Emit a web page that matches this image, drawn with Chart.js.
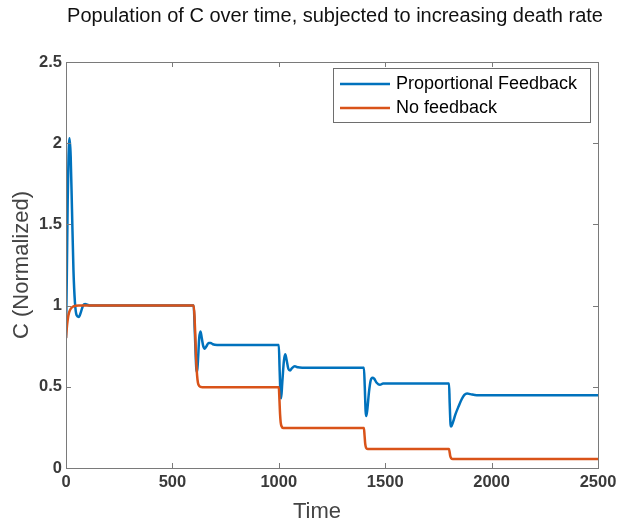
<!DOCTYPE html>
<html>
<head>
<meta charset="utf-8">
<script src="https://cdn.jsdelivr.net/npm/chart.js@4.4.1/dist/chart.umd.min.js"></script>
<style>
  body { margin: 0; background: #fff; }
  canvas { display: block; }
</style>
</head>
<body>
<canvas id="popChart" width="617" height="529"></canvas>
<script>
// data
const feedbackTime = [0, 4, 8, 12, 17, 22, 28, 35, 42, 50, 60, 70, 80, 90, 100, 115,
    600, 605, 612, 616, 620, 626, 632, 638, 645, 652, 660, 670, 680, 690, 710,
    1000, 1004, 1008, 1011, 1016, 1024, 1030, 1036, 1045, 1053, 1062, 1075, 1090, 1110,
    1400, 1404, 1408, 1411, 1416, 1424, 1432, 1440, 1448, 1460, 1475, 1490, 1510,
    1800, 1803, 1807, 1810, 1818, 1830, 1845, 1860, 1872, 1885, 1900, 1930, 2500];
const feedbackC = [0.80, 1.20, 1.65, 1.92, 2.03, 1.92, 1.60, 1.22, 1.02, 0.94, 0.93, 0.96, 1.00, 1.01, 1.005, 1.0,
    1.0, 0.85, 0.62, 0.59, 0.66, 0.80, 0.84, 0.80, 0.75, 0.735, 0.75, 0.77, 0.77, 0.762, 0.758,
    0.758, 0.60, 0.45, 0.43, 0.52, 0.66, 0.70, 0.67, 0.61, 0.60, 0.615, 0.627, 0.62, 0.618,
    0.618, 0.50, 0.35, 0.32, 0.36, 0.47, 0.54, 0.556, 0.55, 0.525, 0.512, 0.52, 0.52,
    0.52, 0.40, 0.27, 0.255, 0.28, 0.33, 0.38, 0.425, 0.45, 0.459, 0.455, 0.448, 0.448];

const noFbTime = [0, 5, 10, 15, 22, 35, 60,
    600, 604, 608, 612, 616, 620, 626, 640,
    1000, 1003, 1006, 1009, 1013, 1020,
    1400, 1403, 1406, 1410, 1418,
    1800, 1803, 1806, 1810, 1818, 2500];
const noFbC = [0.80, 0.88, 0.93, 0.96, 0.98, 0.995, 1.0,
    1.0, 0.93, 0.80, 0.66, 0.57, 0.525, 0.505, 0.497,
    0.497, 0.42, 0.33, 0.28, 0.257, 0.246,
    0.246, 0.20, 0.15, 0.125, 0.117,
    0.117, 0.095, 0.072, 0.06, 0.055, 0.055];

const xTicks = [0, 500, 1000, 1500, 2000, 2500];
const yTicks = [0, 0.5, 1, 1.5, 2, 2.5];

const seriesNames = ["Proportional Feedback", "No feedback"];
const seriesColors = ["#0072BD", "#D95319"];

const toPoints = (xs, ys) => xs.map((x, i) => ({ x: x, y: ys[i] }));

// matlab style box, inward ticks, titles and legend
const matlabFrame = {
    id: "matlabFrame",
    afterDatasetsDraw(chart) {
        const c = chart.ctx;
        const a = chart.chartArea;
        const xs = chart.scales.x;
        const ys = chart.scales.y;
        const tl = 5;

        c.save();
        c.strokeStyle = "#7a7a7a";
        c.lineWidth = 1;
        c.strokeRect(a.left + 0.5, a.top + 0.5, a.right - a.left, a.bottom - a.top);

        c.beginPath();
        xTicks.forEach(v => {
            const px = Math.round(xs.getPixelForValue(v)) + 0.5;
            c.moveTo(px, a.bottom);
            c.lineTo(px, a.bottom - tl);
            c.moveTo(px, a.top);
            c.lineTo(px, a.top + tl);
        });
        yTicks.forEach(v => {
            const py = Math.round(ys.getPixelForValue(v)) + 0.5;
            c.moveTo(a.left, py);
            c.lineTo(a.left + tl, py);
            c.moveTo(a.right, py);
            c.lineTo(a.right - tl, py);
        });
        c.stroke();

        // legend box
        const lx = 333, ly = 68, lw = 257, lh = 54;
        c.fillStyle = "#fff";
        c.fillRect(lx, ly, lw, lh);
        c.strokeStyle = "#6e6e6e";
        c.strokeRect(lx + 0.5, ly + 0.5, lw, lh);
        c.font = "18px 'Liberation Sans', Arial, sans-serif";
        c.textBaseline = "middle";
        c.textAlign = "left";
        seriesNames.forEach((name, i) => {
            const ry = 84 + i * 24;
            c.strokeStyle = seriesColors[i];
            c.lineWidth = 2.5;
            c.beginPath();
            c.moveTo(340, ry);
            c.lineTo(390, ry);
            c.stroke();
            c.fillStyle = "#000";
            c.fillText(name, 396, ry);
        });

        // title and axis titles
        c.fillStyle = "#111";
        c.textAlign = "center";
        c.font = "20px 'Liberation Sans', Arial, sans-serif";
        c.fillText("Population of C over time, subjected to increasing death rate", 335, 16);

        c.fillStyle = "#444";
        c.font = "22px 'Liberation Sans', Arial, sans-serif";
        c.fillText("Time", 317, 512);
        c.translate(22, 265);
        c.rotate(-Math.PI / 2);
        c.fillText("C (Normalized)", 0, 0);
        c.restore();
    }
};

const tickFont = { family: "'Liberation Sans', Arial, sans-serif", size: 16.5, weight: "bold" };

new Chart(document.getElementById("popChart"), {
    type: "line",
    data: {
        datasets: [
            {
                label: seriesNames[0],
                data: toPoints(feedbackTime, feedbackC),
                borderColor: seriesColors[0],
                borderWidth: 2.5,
                pointRadius: 0,
                cubicInterpolationMode: "monotone",
                order: 2
            },
            {
                label: seriesNames[1],
                data: toPoints(noFbTime, noFbC),
                borderColor: seriesColors[1],
                borderWidth: 2.5,
                pointRadius: 0,
                cubicInterpolationMode: "monotone",
                order: 1
            }
        ]
    },
    options: {
        responsive: false,
        animation: false,
        devicePixelRatio: 1,
        layout: {
            padding: { left: 0, top: 62, right: 19, bottom: 0 }
        },
        plugins: {
            legend: { display: false },
            title: { display: false },
            tooltip: { enabled: false }
        },
        scales: {
            x: {
                type: "linear",
                min: 0,
                max: 2500,
                afterBuildTicks: s => { s.ticks = xTicks.map(v => ({ value: v })); },
                afterFit: s => { s.height = 61; s.paddingLeft = 0; s.paddingRight = 0; },
                grid: { display: false, drawTicks: false },
                border: { display: false },
                ticks: {
                    padding: 5,
                    color: "#3a3a3a",
                    font: tickFont,
                    callback: v => String(v),
                    maxRotation: 0
                }
            },
            y: {
                type: "linear",
                min: 0,
                max: 2.5,
                afterBuildTicks: s => { s.ticks = yTicks.map(v => ({ value: v })); },
                afterFit: s => { s.width = 66; s.paddingTop = 0; s.paddingBottom = 0; },
                grid: { display: false, drawTicks: false },
                border: { display: false },
                ticks: {
                    padding: 4,
                    color: "#3a3a3a",
                    font: tickFont,
                    callback: v => String(v)
                }
            }
        }
    },
    plugins: [matlabFrame]
});
</script>
</body>
</html>
